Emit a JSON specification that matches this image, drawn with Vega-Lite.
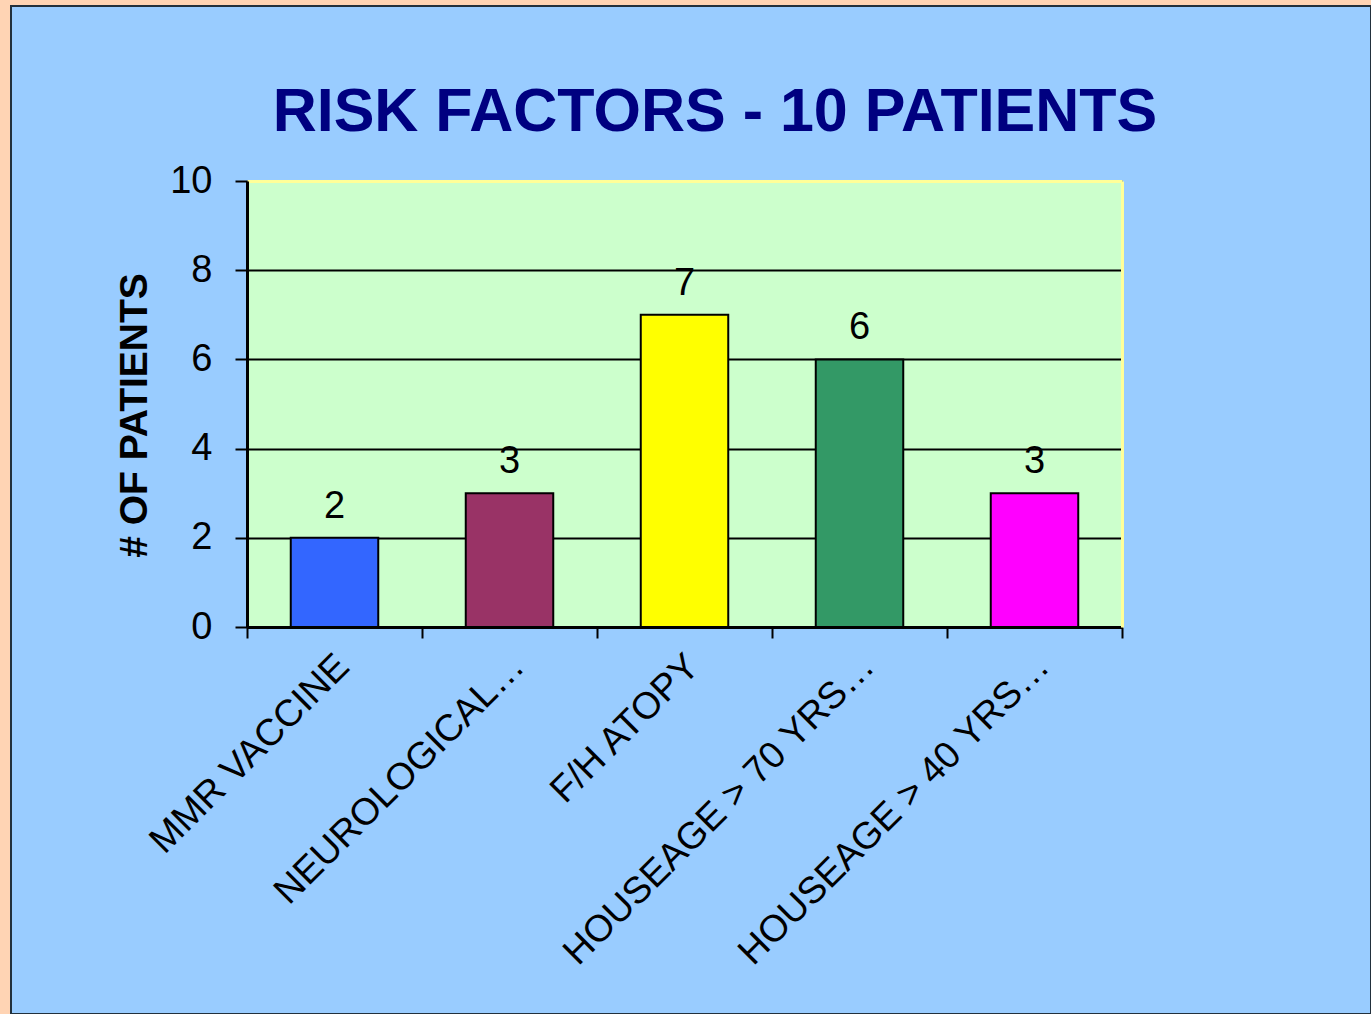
{
  "$schema": "https://vega.github.io/schema/vega-lite/v6.json",
  "width": 1360,
  "height": 1008,
  "autosize": {"type": "none"},
  "padding": {"left": 11, "top": 6, "right": 0, "bottom": 0},
  "background": "#FFD4B4",
  "config": {
    "font": "Liberation Sans",
    "view": {"fill": "#99CCFF", "stroke": "#22303C", "strokeWidth": 2}
  },
  "title": {
    "text": "RISK FACTORS - 10 PATIENTS",
    "font": "Liberation Sans",
    "fontSize": 61,
    "fontWeight": "bold",
    "color": "#000080",
    "baseline": "alphabetic",
    "anchor": "middle",
    "offset": -186,
    "dx": 24
  },
  "data": {
    "values": [
      {"factor": "MMR VACCINE", "patients": 2},
      {"factor": "NEUROLOGICAL…", "patients": 3},
      {"factor": "F/H ATOPY", "patients": 7},
      {"factor": "HOUSEAGE > 70 YRS…", "patients": 6},
      {"factor": "HOUSEAGE > 40 YRS…", "patients": 3}
    ]
  },
  "layer": [
    {
      "mark": {"type": "bar", "width": {"band": 0.5}, "stroke": "#000000", "strokeWidth": 2},
      "encoding": {
        "x": {
          "field": "factor", "type": "nominal", "sort": null,
          "scale": {"type": "band", "range": [236, 1111], "paddingInner": 0, "paddingOuter": 0},
          "axis": {
            "orient": "bottom", "offset": -387, "title": null,
            "domain": true, "domainColor": "#000000", "domainWidth": 3,
            "ticks": true, "tickColor": "#000000", "tickWidth": 2, "tickSize": 11, "tickBand": "extent",
            "grid": false,
            "labelAngle": -45, "labelAlign": "right", "labelBaseline": "top",
            "labelFont": "Liberation Sans", "labelFontSize": 37.5, "labelColor": "#000000",
            "labelPadding": 9, "labelOffset": -5, "labelLimit": 0, "labelOverlap": false
          }
        },
        "y": {
          "field": "patients", "type": "quantitative",
          "scale": {"domain": [0, 10], "range": [621, 175], "nice": false, "zero": true},
          "axis": {
            "orient": "left", "offset": -236, "values": [0, 2, 4, 6, 8, 10],
            "domain": true, "domainColor": "#000000", "domainWidth": 3,
            "ticks": true, "tickColor": "#000000", "tickWidth": 2, "tickSize": 12,
            "grid": true, "gridColor": "#000000", "gridWidth": 2, "gridOpacity": 1,
            "labelFont": "Liberation Sans", "labelFontSize": 38, "labelColor": "#000000", "labelPadding": 23,
            "title": "# OF PATIENTS", "titleFont": "Liberation Sans", "titleFontSize": 39, "titleFontWeight": "bold",
            "titleColor": "#000000", "titlePadding": 15, "titleY": 409
          }
        },
        "color": {
          "field": "factor", "type": "nominal", "sort": null,
          "scale": {
            "domain": ["MMR VACCINE", "NEUROLOGICAL…", "F/H ATOPY", "HOUSEAGE > 70 YRS…", "HOUSEAGE > 40 YRS…"],
            "range": ["#3366FF", "#993366", "#FFFF00", "#339966", "#FF00FF"]
          },
          "legend": null
        }
      }
    },
    {
      "mark": {"type": "text", "baseline": "alphabetic", "dy": -20, "fontSize": 38, "font": "Liberation Sans", "color": "#000000"},
      "encoding": {
        "x": {
          "field": "factor", "type": "nominal", "sort": null,
          "axis": {
            "orient": "top", "offset": -175, "title": null,
            "labels": false, "ticks": false,
            "domain": true, "domainColor": "#FFFF99", "domainWidth": 3,
            "grid": true, "gridColor": "#CCFFCC", "gridWidth": 176, "gridOpacity": 1,
            "tickBand": "center", "bandPosition": 0.5
          }
        },
        "y": {
          "field": "patients", "type": "quantitative",
          "axis": {
            "orient": "right", "offset": -249, "title": null,
            "labels": false, "ticks": false, "grid": false,
            "domain": true, "domainColor": "#FFFF99", "domainWidth": 3
          }
        },
        "text": {"field": "patients", "type": "quantitative"}
      }
    }
  ],
  "resolve": {"axis": {"x": "independent", "y": "independent"}}
}
